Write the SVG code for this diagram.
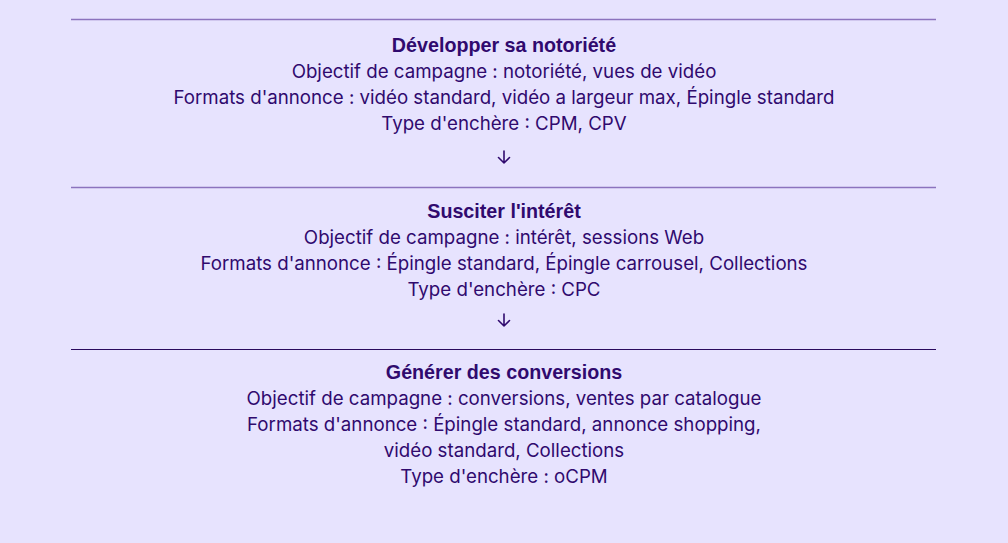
<svg xmlns="http://www.w3.org/2000/svg" width="1008" height="543" viewBox="0 0 1008 543">
<style>
.t{font-family:"Liberation Sans",Arial,sans-serif;font-weight:bold;font-size:19.7px;fill:#300A6E;text-anchor:middle}
.b{font-family:Inter,"Noto Sans",sans-serif;font-size:18.7px;fill:#300A6E;text-anchor:middle}
.sep{stroke-width:1.5}
.arr{fill:none;stroke:#300A6E;stroke-width:1.6;stroke-linecap:round;stroke-linejoin:round}
</style>
<rect width="1008" height="543" fill="#E7E3FE"/>
<g id="step1">
<line class="sep" x1="71" y1="19.5" x2="936" y2="19.5" stroke="#8C73BE"/>
<text class="t" x="504" y="52">Développer sa notoriété</text>
<text class="b" x="504" y="78">Objectif de campagne : notoriété, vues de vidéo</text>
<text class="b" x="504" y="104">Formats d'annonce : vidéo standard, vidéo a largeur max, Épingle standard</text>
<text class="b" x="504" y="130">Type d'enchère : CPM, CPV</text>
</g>
<g id="step2">
<line class="sep" x1="71" y1="187.5" x2="936" y2="187.5" stroke="#8C73BE"/>
<text class="t" x="504" y="218">Susciter l'intérêt</text>
<text class="b" x="504" y="244">Objectif de campagne : intérêt, sessions Web</text>
<text class="b" x="504" y="270">Formats d'annonce : Épingle standard, Épingle carrousel, Collections</text>
<text class="b" x="504" y="296">Type d'enchère : CPC</text>
</g>
<g id="step3">
<line x1="71" y1="349.5" x2="936" y2="349.5" stroke="#2A0A5E" stroke-width="1.2"/>
<text class="t" x="504" y="379">Générer des conversions</text>
<text class="b" x="504" y="405">Objectif de campagne : conversions, ventes par catalogue</text>
<text class="b" x="504" y="431">Formats d'annonce : Épingle standard, annonce shopping,</text>
<text class="b" x="504" y="457">vidéo standard, Collections</text>
<text class="b" x="504" y="483">Type d'enchère : oCPM</text>
</g>
<g id="connectors">
<path class="arr" d="M504 151 V163 M498.5 157.5 L504 163 L509.5 157.5"/>
<path class="arr" d="M504 314 V326 M498.5 320.5 L504 326 L509.5 320.5"/>
</g>
</svg>
